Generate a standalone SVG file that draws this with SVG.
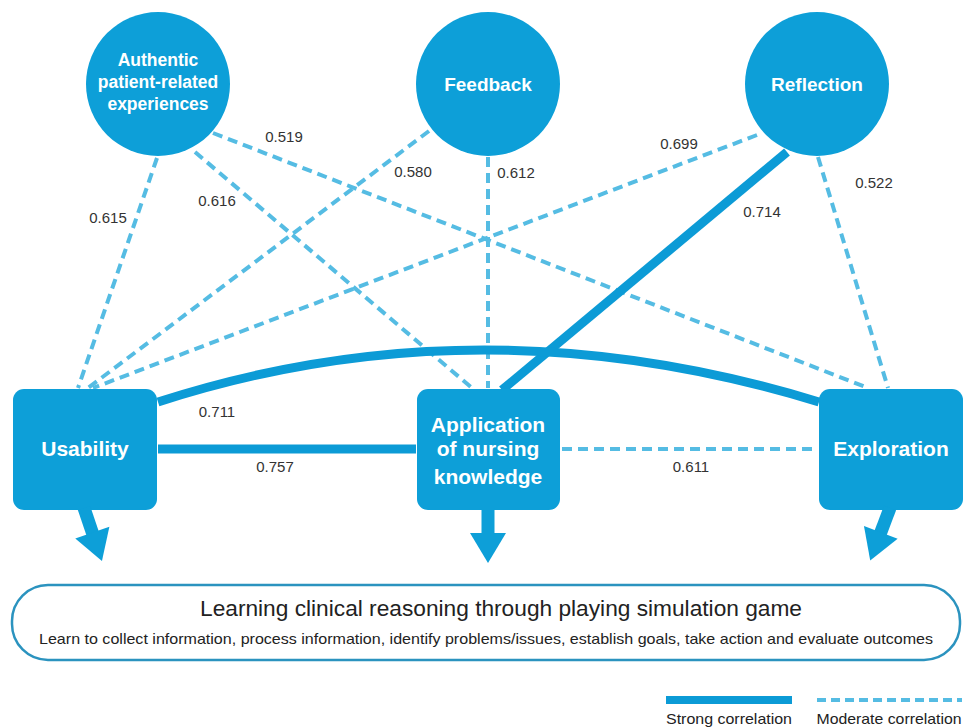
<svg xmlns="http://www.w3.org/2000/svg" width="965" height="728" viewBox="0 0 965 728">
<style>
.node{fill:#0d9fd8}
.nt{font-family:"Liberation Sans",Arial,sans-serif;font-weight:bold;fill:#ffffff;text-anchor:middle}
.mod{fill:none;stroke:#55bce3;stroke-width:4;stroke-dasharray:10 6}
.str{fill:none;stroke:#0c9bd6;stroke-width:9}
.lbl{font-family:"Liberation Sans",Arial,sans-serif;font-size:15px;fill:#333333;text-anchor:middle}
.arrow{fill:#0d9fd8}
.cap{font-family:"Liberation Sans",Arial,sans-serif;fill:#222222;text-anchor:middle}
</style>
<rect width="965" height="728" fill="#ffffff"/>
<g id="connectors">
  <line class="mod" x1="157" y1="158" x2="78" y2="388"/>
  <line class="mod" x1="195" y1="152" x2="472" y2="388"/>
  <line class="mod" x1="213" y1="133" x2="868" y2="388"/>
  <line class="mod" x1="429" y1="131" x2="88" y2="388"/>
  <line class="mod" x1="488" y1="157" x2="488" y2="388"/>
  <line class="mod" x1="757" y1="135" x2="93" y2="388"/>
  <line class="mod" x1="818" y1="157" x2="888" y2="388"/>
  <line class="str" x1="787" y1="152" x2="502" y2="390"/>
  <line class="str" x1="158" y1="449" x2="416" y2="449"/>
  <line class="mod" x1="562" y1="449" x2="818" y2="449"/>
  <path class="str" d="M158,402 Q480,298 819,402"/>
  <text class="lbl" x="284" y="142">0.519</text>
  <text class="lbl" x="413" y="177">0.580</text>
  <text class="lbl" x="217" y="206">0.616</text>
  <text class="lbl" x="108" y="223">0.615</text>
  <text class="lbl" x="516" y="178">0.612</text>
  <text class="lbl" x="679" y="149">0.699</text>
  <text class="lbl" x="762" y="217">0.714</text>
  <text class="lbl" x="874" y="188">0.522</text>
  <text class="lbl" x="217" y="417">0.711</text>
  <text class="lbl" x="275" y="472">0.757</text>
  <text class="lbl" x="691" y="472">0.611</text>
</g>
<g id="n-authentic">
  <circle class="node" cx="158" cy="84" r="72"/>
  <text class="nt" font-size="17.5"><tspan x="158" y="66">Authentic</tspan><tspan x="158" y="88">patient-related</tspan><tspan x="158" y="110">experiences</tspan></text>
</g>
<g id="n-feedback">
  <circle class="node" cx="488" cy="84" r="72"/>
  <text class="nt" font-size="19" x="488" y="91">Feedback</text>
</g>
<g id="n-reflection">
  <circle class="node" cx="817" cy="84" r="72"/>
  <text class="nt" font-size="19" x="817" y="91">Reflection</text>
</g>
<g id="n-usability">
  <rect class="node" x="13" y="389" width="144" height="121" rx="11"/>
  <text class="nt" font-size="21" x="85" y="456">Usability</text>
  <g class="arrow" transform="translate(84,508) rotate(-18.7)">
    <rect x="-6.5" y="0" width="13" height="28"/>
    <polygon points="-18,26 18,26 0,56"/>
  </g>
</g>
<g id="n-application">
  <rect class="node" x="417" y="389" width="143" height="121" rx="11"/>
  <text class="nt" font-size="21"><tspan x="488" y="432">Application</tspan><tspan x="488" y="456">of nursing</tspan><tspan x="488" y="484">knowledge</tspan></text>
  <g class="arrow" transform="translate(488,508)">
    <rect x="-6.5" y="0" width="13" height="28"/>
    <polygon points="-18,25 18,25 0,55"/>
  </g>
</g>
<g id="n-exploration">
  <rect class="node" x="819" y="389" width="144" height="121" rx="11"/>
  <text class="nt" font-size="21" x="891" y="456">Exploration</text>
  <g class="arrow" transform="translate(890,508) rotate(20.7)">
    <rect x="-6.5" y="0" width="13" height="28"/>
    <polygon points="-18,26 18,26 0,56"/>
  </g>
</g>
<g id="n-outcome">
  <rect x="12" y="585" width="948" height="75" rx="36" fill="#ffffff" stroke="#2b93bf" stroke-width="2.5"/>
  <text class="cap" font-size="22" x="501" y="616" textLength="602" lengthAdjust="spacingAndGlyphs">Learning clinical reasoning through playing simulation game</text>
  <text class="cap" font-size="15" x="486" y="644" textLength="894" lengthAdjust="spacingAndGlyphs">Learn to collect information, process information, identify problems/issues, establish goals, take action and evaluate outcomes</text>
</g>
<g id="legend">
  <line x1="666" y1="700" x2="792" y2="700" stroke="#0c9bd6" stroke-width="8"/>
  <line x1="817" y1="700" x2="962" y2="700" stroke="#55bce3" stroke-width="4" stroke-dasharray="9 5"/>
  <text class="cap" font-size="15" x="729" y="724" textLength="126" lengthAdjust="spacingAndGlyphs">Strong correlation</text>
  <text class="cap" font-size="15" x="889" y="724" textLength="145" lengthAdjust="spacingAndGlyphs">Moderate correlation</text>
</g>
</svg>
